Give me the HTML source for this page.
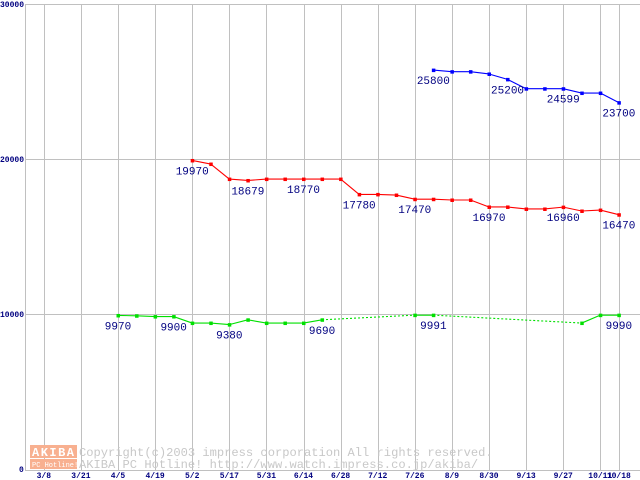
<!DOCTYPE html>
<html><head><meta charset="utf-8"><style>
body{margin:0;background:#fff}
svg{display:block}
text{font-family:"Liberation Mono",monospace}
</style></head><body>
<svg id="c" width="640" height="480" xmlns="http://www.w3.org/2000/svg">
<g id="grid"></g>
<g id="wm">
<rect x="30" y="445" width="47" height="13" fill="#f8b090"/>
<text x="32" y="456" font-size="12" fill="#fff" font-weight="bold" letter-spacing="1.5">AKIBA</text>
<rect x="30" y="459" width="47" height="10" fill="#f8b090"/>
<text x="32" y="467" font-size="7" fill="#fff">PC Hotline!</text>
<text x="79" y="456" font-size="12.1" fill="#c8c8c8">Copyright(c)2003 impress corporation All rights reserved.</text>
<text x="79" y="468" font-size="12.1" fill="#c8c8c8">AKIBA PC Hotline!  http://www.watch.impress.co.jp/akiba/</text>
</g>
<g id="series"></g>
</svg>
<script>
const xTickLabels=["3/8","3/21","4/5","4/19","5/2","5/17","5/31","6/14","6/28","7/12","7/26","8/9","8/30","9/13","9/27","10/11","10/18"];
const xTickIdx=[-4,-2,0,2,4,6,8,10,12,14,16,18,20,22,24,26,27];
const yTicks=[0,10000,20000,30000];
const green=[9970,9950,9900,9900,9480,9480,9380,9690,9480,9480,9480,9690,null,null,null,null,9991,9991,null,null,null,null,null,null,null,9480,9990,9990];
const red=[null,null,null,null,19970,19740,18770,18679,18770,18770,18770,18770,18770,17780,17780,17740,17470,17470,17420,17420,16970,16970,16840,16840,16960,16710,16770,16470];
const blue=[null,null,null,null,null,null,null,null,null,null,null,null,null,null,null,null,null,25800,25700,25700,25550,25200,24600,24600,24599,24320,24320,23700];
const greenLabels=[[0,9970],[3,9900],[6,9380],[11,9690],[17,9991],[27,9990]];
const redLabels=[[4,19970],[7,18679],[10,18770],[13,17780],[16,17470],[20,16970],[24,16960],[27,16470]];
const blueLabels=[[17,25800],[21,25200],[24,24599],[27,23700]];

const NS="http://www.w3.org/2000/svg";
const X=i=>118+i*18.55;
const Y=v=>470-v*0.0155;
function mk(tag,attrs,parent){const e=document.createElementNS(NS,tag);for(const k in attrs)e.setAttribute(k,attrs[k]);parent.appendChild(e);return e;}
const grid=document.getElementById('grid'),ser=document.getElementById('series');
yTicks.forEach(v=>{
  if(v>0){const l=mk('line',{x1:25,x2:640,y1:Y(v)-0.5,y2:Y(v)-0.5,stroke:'#c0c0c0'},grid);
  
  }
  const t=mk('text',{x:v===0?19:0,y:Y(v)+2,'font-size':8,fill:'#000080','font-weight':'bold'},grid);
  t.textContent=String(v);
  
  
});
xTickIdx.forEach((i,k)=>{
  const x=Math.round(X(i))+0.5;
  const l=mk('line',{x1:x,x2:x,y1:4,y2:470,stroke:'#c0c0c0'},grid);
  
  
  const t=mk('text',{x:X(i),y:478,'font-size':8,fill:'#000080','font-weight':'bold','text-anchor':'middle'},grid);
  t.textContent=xTickLabels[k];
  
  
});
const ax=mk('path',{d:'M25.5 470V4.5H640',fill:'none',stroke:'#c0c0c0'},grid);


const bx=mk('line',{x1:25,x2:640,y1:470.5,y2:470.5,stroke:'#c0c0c0'},grid);



function drawSeries(vals,color,name,labels){
  let prev=null,gap=false;
  vals.forEach((v,i)=>{
    if(v==null){if(prev)gap=true;return;}
    if(prev){
      const l=mk('line',{x1:X(prev[0]),y1:Y(prev[1]),x2:X(i),y2:Y(v),stroke:color,'stroke-width':1.1},ser);
      if(gap)l.setAttribute('stroke-dasharray','2,2');
      
      
    }
    prev=[i,v];gap=false;
  });
  vals.forEach((v,i)=>{
    if(v==null)return;
    const r=mk('rect',{x:X(i)-1.5,y:Y(v)-1.5,width:3.5,height:3.5,fill:color},ser);
    
    
  });
  labels.forEach(([i,v])=>{
    const t=mk('text',{x:X(i),y:Y(vals[i])+14,'font-size':11,fill:'#000080','text-anchor':'middle','font-family':'Liberation Sans, sans-serif'},ser);
    t.textContent=String(v);
    
    
  });
}
drawSeries(green,'#00e000','green-series',greenLabels);
drawSeries(red,'#ff0000','red-series',redLabels);
drawSeries(blue,'#0000ff','blue-series',blueLabels);
</script>
</body></html>
